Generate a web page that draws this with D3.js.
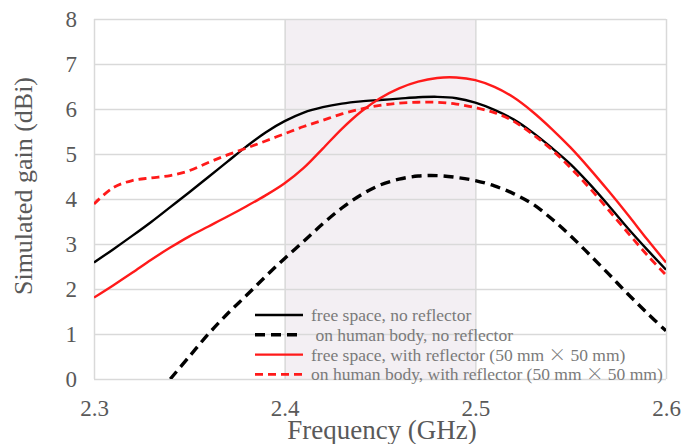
<!DOCTYPE html>
<html>
<head>
<meta charset="utf-8">
<script src="https://cdn.jsdelivr.net/npm/d3@7/dist/d3.min.js"></script>
<style>
  html, body { margin: 0; padding: 0; background: #ffffff; }
  svg { display: block; }
</style>
</head>
<body>
<svg id="chart" width="682" height="444"></svg>
<script>
// Frequency samples (GHz)
const freq = [2.30, 2.31, 2.32, 2.33, 2.34, 2.35, 2.36, 2.37, 2.38, 2.39, 2.40,
              2.41, 2.42, 2.43, 2.44, 2.45, 2.46, 2.47, 2.48, 2.49, 2.50,
              2.51, 2.52, 2.53, 2.54, 2.55, 2.56, 2.57, 2.58, 2.59, 2.60];

// Simulated gain (dBi) for each configuration
const freeSpaceNoReflector = [2.59, 2.88, 3.18, 3.49, 3.82, 4.15, 4.49, 4.83, 5.17, 5.48, 5.73,
                              5.92, 6.04, 6.12, 6.17, 6.20, 6.23, 6.26, 6.27, 6.24, 6.14,
                              5.98, 5.77, 5.48, 5.14, 4.77, 4.33, 3.85, 3.35, 2.88, 2.43];
const bodyNoReflector = [null, null, null, null, 0.00, 0.50, 1.00, 1.45, 1.86, 2.28, 2.68,
                         3.06, 3.45, 3.80, 4.09, 4.31, 4.44, 4.51, 4.52, 4.48, 4.41,
                         4.29, 4.12, 3.89, 3.56, 3.18, 2.76, 2.33, 1.89, 1.47, 1.07];
const freeSpaceReflector = [1.81, 2.08, 2.36, 2.65, 2.92, 3.17, 3.39, 3.61, 3.84, 4.08, 4.35,
                            4.69, 5.12, 5.56, 5.94, 6.24, 6.46, 6.61, 6.69, 6.70, 6.64,
                            6.49, 6.26, 5.94, 5.56, 5.14, 4.67, 4.17, 3.65, 3.11, 2.59];
const bodyReflector = [3.89, 4.25, 4.41, 4.47, 4.52, 4.63, 4.81, 4.98, 5.13, 5.29, 5.45,
                       5.61, 5.75, 5.89, 6.00, 6.08, 6.13, 6.15, 6.15, 6.11, 6.03,
                       5.92, 5.73, 5.44, 5.10, 4.69, 4.24, 3.75, 3.25, 2.76, 2.31];

const seriesNames = [
  "free space, no reflector",
  " on human body, no reflector",
  "free space, with reflector (50 mm × 50 mm)",
  "on human body, with reflector (50 mm × 50 mm)"
];

// Axis ticks and highlighted band
const xTicks = [2.3, 2.4, 2.5, 2.6];
const yTicks = [0, 1, 2, 3, 4, 5, 6, 7, 8];
const band = [2.4, 2.5];

const series = [
  { name: seriesNames[0], values: freeSpaceNoReflector, color: "#000000", width: 2.4, dash: null },
  { name: seriesNames[1], values: bodyNoReflector,      color: "#000000", width: 3.4, dash: "10,6" },
  { name: seriesNames[2], values: freeSpaceReflector,   color: "#ff1a1a", width: 2.4, dash: null },
  { name: seriesNames[3], values: bodyReflector,        color: "#ff1a1a", width: 2.8, dash: "8,5" }
];

const svg = d3.select("#chart");
const plotLeft = 94, plotRight = 666, plotTop = 19, plotBottom = 379;

const x = d3.scaleLinear().domain([2.3, 2.6]).range([plotLeft, plotRight]);
const y = d3.scaleLinear().domain([0, 8]).range([plotBottom, plotTop]);

const serif = "'Liberation Serif', 'Times New Roman', serif";
const gridColor = "#d9d9d9";

// Highlighted band
svg.append("rect")
  .attr("x", x(band[0])).attr("y", plotTop)
  .attr("width", x(band[1]) - x(band[0]))
  .attr("height", plotBottom - plotTop)
  .attr("fill", "#f3eff3");

// Horizontal gridlines
const yAxis = d3.axisLeft(y).tickValues(yTicks).tickSize(-(plotRight - plotLeft)).tickFormat(d3.format("d"));
const gy = svg.append("g").attr("transform", `translate(${plotLeft},0)`).call(yAxis);
gy.select(".domain").remove();
gy.selectAll(".tick line").attr("stroke", gridColor).attr("stroke-width", 1.5);
gy.selectAll(".tick text")
  .attr("x", -17)
  .attr("dy", "0.34em")
  .attr("fill", "#595959")
  .style("font-family", serif)
  .style("font-size", "23px");

// Vertical gridlines
const xAxis = d3.axisBottom(x).tickValues(xTicks).tickSize(-(plotBottom - plotTop)).tickFormat(d3.format(".1f"));
const gx = svg.append("g").attr("transform", `translate(0,${plotBottom})`).call(xAxis);
gx.select(".domain").remove();
gx.selectAll(".tick line").attr("stroke", gridColor).attr("stroke-width", 1.5);
gx.selectAll(".tick text")
  .attr("y", 37)
  .attr("dy", 0)
  .attr("fill", "#595959")
  .style("font-family", serif)
  .style("font-size", "23px");

// Clip curves to the plotting area
svg.append("clipPath").attr("id", "plot-clip")
  .append("rect").attr("x", plotLeft).attr("y", plotTop)
  .attr("width", plotRight - plotLeft).attr("height", plotBottom - plotTop);

const line = d3.line()
  .defined(d => d[1] !== null)
  .x(d => x(d[0]))
  .y(d => y(d[1]))
  .curve(d3.curveCatmullRom.alpha(0.5));

const plot = svg.append("g").attr("clip-path", "url(#plot-clip)");
series.forEach(s => {
  plot.append("path")
    .datum(freq.map((f, i) => [f, s.values[i]]))
    .attr("fill", "none")
    .attr("stroke", s.color)
    .attr("stroke-width", s.width)
    .attr("stroke-dasharray", s.dash)
    .attr("stroke-linejoin", "round")
    .attr("d", line);
});

// Legend
const legendX = 255, legendTextX = 311, legendY0 = 315, legendStep = 19.8;
const legend = svg.append("g");
series.forEach((s, i) => {
  const ly = legendY0 + i * legendStep;
  legend.append("line")
    .attr("x1", legendX).attr("x2", legendX + 48)
    .attr("y1", ly).attr("y2", ly)
    .attr("stroke", s.color)
    .attr("stroke-width", s.width)
    .attr("stroke-dasharray", s.dash);
  const parts = s.name.split("×");
  const t = legend.append("text")
    .attr("x", legendTextX)
    .attr("y", ly + 6)
    .attr("fill", "#7a7a7a")
    .style("font-family", serif)
    .style("font-size", "17.5px")
    .style("white-space", "pre");
  t.append("tspan").text(parts[0]);
  if (parts.length > 1) {
    t.append("tspan").style("font-family", "'Noto Sans CJK JP', sans-serif").style("font-weight", 300).text("×");
    t.append("tspan").text(parts[1]);
  }
});

// Axis titles
svg.append("text")
  .attr("transform", "translate(32,186) rotate(-90)")
  .attr("text-anchor", "middle")
  .attr("fill", "#595959")
  .style("font-family", serif)
  .style("font-size", "26px")
  .text("Simulated gain (dBi)");

svg.append("text")
  .attr("x", 382).attr("y", 439)
  .attr("text-anchor", "middle")
  .attr("fill", "#595959")
  .style("font-family", serif)
  .style("font-size", "27px")
  .text("Frequency (GHz)");
</script>
</body>
</html>
